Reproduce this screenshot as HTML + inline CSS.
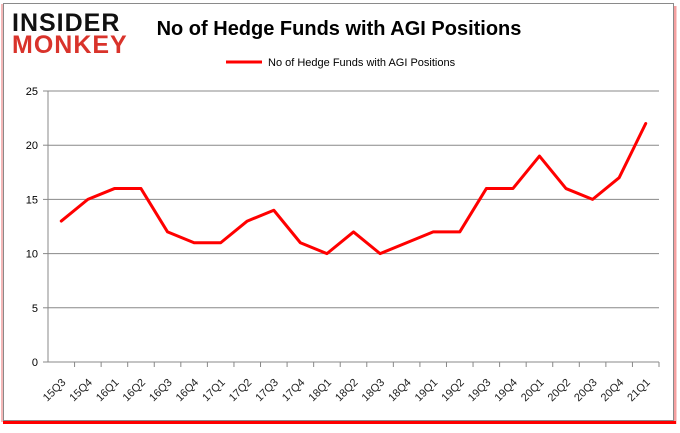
<!DOCTYPE html>
<html><head><meta charset="utf-8"><style>
body{margin:0;background:#fff;font-family:"Liberation Sans",sans-serif}
#wrap{position:relative;width:680px;height:433px;overflow:hidden}
</style></head><body>
<div id="wrap">
<svg id="chart" width="680" height="433" xmlns="http://www.w3.org/2000/svg">
<line x1="2" y1="4" x2="2" y2="422" stroke="#f4b8b8" stroke-width="2"/>
<line x1="675" y1="6" x2="675" y2="424" stroke="#f4a0a0" stroke-width="3"/>
<line x1="3" y1="422.5" x2="676" y2="422.5" stroke="#f00" stroke-width="3"/>
<rect x="3.5" y="3.5" width="670" height="417" fill="#fff" stroke="#8a8a8a" stroke-width="1"/>
<text x="12" y="31" font-size="25" font-weight="bold" fill="#111" font-family="Liberation Sans" letter-spacing="1">INSIDER</text>
<text x="12" y="53" font-size="25" font-weight="bold" fill="#d9332b" font-family="Liberation Sans" letter-spacing="1">MONKEY</text>
<text x="339" y="35" font-size="20" font-weight="bold" text-anchor="middle" fill="#000">No of Hedge Funds with AGI Positions</text>
<g>
<line x1="226" y1="62" x2="262" y2="62" stroke="#f00" stroke-width="3"/>
<text x="268" y="66" font-size="11" fill="#000">No of Hedge Funds with AGI Positions</text>
</g>
<g id="axes"></g>
</svg>
</div>
<script>
const categories=["15Q3","15Q4","16Q1","16Q2","16Q3","16Q4","17Q1","17Q2","17Q3","17Q4","18Q1","18Q2","18Q3","18Q4","19Q1","19Q2","19Q3","19Q4","20Q1","20Q2","20Q3","20Q4","21Q1"];
const values=[13,15,16,16,12,11,11,13,14,11,10,12,10,11,12,12,16,16,19,16,15,17,22];
const yTicks=[0,5,10,15,20,25];
const NS="http://www.w3.org/2000/svg";
const L=48,R=659,T=91,B=362,yMax=25;
const step=(R-L)/categories.length;
const x=i=>L+step*(i+0.5);
const y=v=>B-(v/yMax)*(B-T);
const g=document.getElementById('axes');
function mk(t,a){const e=document.createElementNS(NS,t);for(const k in a)e.setAttribute(k,a[k]);g.appendChild(e);return e;}
yTicks.forEach(v=>{
 const gl=mk('line',{x1:L,x2:R,y1:y(v),y2:y(v),stroke:'#888','stroke-width':1});
 
 
 const tk=mk('line',{x1:L-5,x2:L,y1:y(v),y2:y(v),stroke:'#888'});
 
 
 const t=mk('text',{x:L-10,y:y(v)+4,'font-size':11,'text-anchor':'end',fill:'#000'});
 t.textContent=v;
 
 
});
const ya=mk('line',{x1:L,x2:L,y1:T,y2:B,stroke:'#888'});


categories.forEach((c,i)=>{
 const tk=mk('line',{x1:L+step*(i+1),x2:L+step*(i+1),y1:B,y2:B+5,stroke:'#888'});
 
 
 const t=mk('text',{'font-size':11,'text-anchor':'end',fill:'#222',transform:`translate(${x(i)+5},${B+21}) rotate(-45)`});
 t.textContent=c;
 
 
});
const p=mk('polyline',{points:values.map((v,i)=>x(i)+','+y(v)).join(' '),fill:'none',stroke:'#f00','stroke-width':3,'stroke-linejoin':'round','stroke-linecap':'round'});


</script>
</body></html>
